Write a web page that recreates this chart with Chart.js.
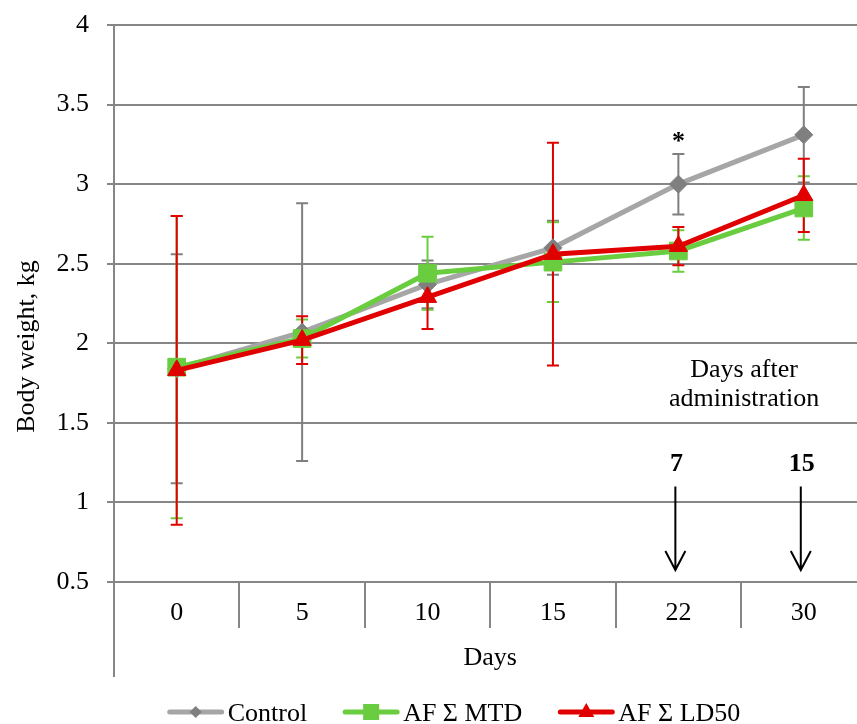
<!DOCTYPE html>
<html>
<head>
<meta charset="utf-8">
<script src="https://cdn.jsdelivr.net/npm/chart.js@4.4.1/dist/chart.umd.min.js"></script>
<style>
  html, body { margin: 0; padding: 0; background: #fff; overflow: hidden; }
  #wrap { width: 880px; height: 724px; }
</style>
</head>
<body>
<div id="wrap"><canvas id="chart" width="880" height="724"></canvas></div>
<script>
// Body weight over time (mean ± SD)
const days = ['0', '5', '10', '15', '22', '30'];

const controlMean = [1.84, 2.07, 2.37, 2.60, 3.00, 3.31];
const controlSd   = [0.72, 0.81, 0.15, 0.17, 0.19, 0.30];

const mtdMean = [1.85, 2.03, 2.44, 2.51, 2.58, 2.85];
const mtdSd   = [0.95, 0.12, 0.23, 0.25, 0.13, 0.20];

const ld50Mean = [1.83, 2.02, 2.29, 2.56, 2.61, 2.93];
const ld50Sd   = [0.97, 0.15, 0.20, 0.70, 0.12, 0.23];

const yMin = 0.5, yMax = 4, yStep = 0.5;
const afterDays = ['7', '15'];   // days after administration, shown over days 22 and 30

const FONT = '"Liberation Serif", "Times New Roman", serif';
const GRID = '#868686';

// error bars under the lines
const errorBars = {
  id: 'errorBars',
  beforeDatasetsDraw(chart) {
    const ctx = chart.ctx;
    const y = chart.scales.y;
    chart.data.datasets.forEach((ds, i) => {
      const meta = chart.getDatasetMeta(i);
      ctx.save();
      ctx.strokeStyle = ds.errorColor;
      ctx.lineWidth = 2;
      meta.data.forEach((pt, j) => {
        const hi = y.getPixelForValue(ds.data[j] + ds.errors[j]);
        const lo = y.getPixelForValue(ds.data[j] - ds.errors[j]);
        ctx.beginPath();
        ctx.moveTo(pt.x, hi); ctx.lineTo(pt.x, lo);
        ctx.moveTo(pt.x - 6, hi); ctx.lineTo(pt.x + 6, hi);
        ctx.moveTo(pt.x - 6, lo); ctx.lineTo(pt.x + 6, lo);
        ctx.stroke();
      });
      ctx.restore();
    });
  }
};

function marker(ctx, style, x, y, color) {
  ctx.fillStyle = color;
  ctx.beginPath();
  if (style === 'rectRot') {
    ctx.moveTo(x, y - 6); ctx.lineTo(x + 6, y); ctx.lineTo(x, y + 6); ctx.lineTo(x - 6, y);
  } else if (style === 'rect') {
    ctx.rect(x - 8, y - 8, 16, 16);
  } else {
    ctx.moveTo(x, y - 9); ctx.lineTo(x + 8, y + 5); ctx.lineTo(x - 8, y + 5);
  }
  ctx.closePath();
  ctx.fill();
}

// y title, axis extension, annotations and legend
const extras = {
  id: 'extras',
  afterDraw(chart) {
    const ctx = chart.ctx;
    const xs = chart.scales.x, ys = chart.scales.y;
    const area = chart.chartArea;
    ctx.save();

    // left axis runs down past the category labels
    ctx.strokeStyle = GRID;
    ctx.lineWidth = 2;
    ctx.beginPath();
    ctx.moveTo(area.left, area.bottom);
    ctx.lineTo(area.left, 677);
    ctx.stroke();

    ctx.fillStyle = '#000';
    ctx.font = '26px ' + FONT;

    // y axis title, centred on the full axis line
    ctx.save();
    ctx.translate(27, (area.top + 668) / 2);
    ctx.rotate(-Math.PI / 2);
    ctx.textAlign = 'center';
    ctx.textBaseline = 'middle';
    ctx.fillText('Body weight, kg', 0, 0);
    ctx.restore();

    // significance mark
    const x22 = xs.getPixelForValue(4);
    const x30 = xs.getPixelForValue(5);
    ctx.textAlign = 'center';
    ctx.textBaseline = 'alphabetic';
    ctx.font = 'bold 26px ' + FONT;
    ctx.fillText('*', x22, ys.getPixelForValue(controlMean[4] + controlSd[4]) - 5);

    // days after administration
    ctx.font = '26px ' + FONT;
    const midX = (x22 + x30) / 2 + 3;
    ctx.fillText('Days after', midX, ys.getPixelForValue(1.79));
    ctx.fillText('administration', midX, ys.getPixelForValue(1.605));

    ctx.font = 'bold 26px ' + FONT;
    [x22, x30].forEach((x, k) => {
      ctx.fillText(afterDays[k], x - 2, ys.getPixelForValue(1.2));
      const top = ys.getPixelForValue(1.1), bot = ys.getPixelForValue(0.575);
      ctx.strokeStyle = '#000';
      ctx.lineWidth = 2;
      ctx.beginPath();
      ctx.moveTo(x - 3, top); ctx.lineTo(x - 3, bot);
      ctx.moveTo(x - 13, bot - 19); ctx.lineTo(x - 3, bot); ctx.lineTo(x + 7, bot - 19);
      ctx.stroke();
    });

    // legend
    ctx.font = '26px ' + FONT;
    ctx.textAlign = 'left';
    const seg = 56, gapText = 4, gapItem = 36, ly = 712;
    const items = chart.data.datasets.map(ds => ({ ds, w: ctx.measureText(ds.label).width }));
    const total = items.reduce((s, it) => s + seg + gapText + it.w, 0) + gapItem * (items.length - 1);
    let lx = 454 - total / 2;
    items.forEach(({ ds, w }) => {
      ctx.strokeStyle = ds.borderColor;
      ctx.lineWidth = 5;
      ctx.lineCap = 'round';
      ctx.beginPath();
      ctx.moveTo(lx + 2, ly); ctx.lineTo(lx + seg - 2, ly);
      ctx.stroke();
      marker(ctx, ds.pointStyle, lx + seg / 2, ly, ds.pointBackgroundColor);
      ctx.fillStyle = '#000';
      ctx.fillText(ds.label, lx + seg + gapText, 721);
      lx += seg + gapText + w + gapItem;
    });
    ctx.restore();
  }
};

new Chart(document.getElementById('chart'), {
  type: 'line',
  data: {
    labels: days,
    datasets: [
      {
        label: 'Control',
        data: controlMean,
        errors: controlSd,
        errorColor: '#7f7f7f',
        borderColor: '#a6a6a6',
        pointBackgroundColor: '#7f7f7f',
        pointBorderColor: '#7f7f7f',
        pointStyle: 'rectRot',
        pointRadius: 9,
        order: 3
      },
      {
        label: 'AF Σ MTD',
        data: mtdMean,
        errors: mtdSd,
        errorColor: '#6acd40',
        borderColor: '#6acd40',
        pointBackgroundColor: '#6acd40',
        pointBorderColor: '#6acd40',
        pointStyle: 'rect',
        pointRadius: 12.5,
        order: 2
      },
      {
        label: 'AF Σ LD50',
        data: ld50Mean,
        errors: ld50Sd,
        errorColor: '#e00000',
        borderColor: '#e00000',
        pointBackgroundColor: '#e00000',
        pointBorderColor: '#e00000',
        pointStyle: 'triangle',
        pointRadius: 10.5,
        order: 1
      }
    ]
  },
  options: {
    responsive: false,
    devicePixelRatio: 1,
    animation: false,
    layout: { padding: { top: 25, right: 13, bottom: 42, left: 0 } },
    elements: {
      line: { borderWidth: 5, tension: 0 },
      point: { borderWidth: 1, hoverRadius: 9 }
    },
    plugins: {
      legend: { display: false },
      tooltip: { enabled: false }
    },
    scales: {
      x: {
        offset: true,
        afterFit: s => { s.height = 100; },
        grid: {
          offset: true,
          drawOnChartArea: false,
          tickLength: 46,
          color: GRID,
          lineWidth: 2
        },
        border: { display: false },
        ticks: { color: '#000', padding: -30, font: { family: FONT, size: 26 } },
        title: {
          display: true,
          text: 'Days',
          color: '#000',
          padding: { top: 0, bottom: 8 },
          font: { family: FONT, size: 26 }
        }
      },
      y: {
        min: yMin,
        max: yMax,
        afterFit: s => { s.width = 114; s.paddingTop = 0; s.paddingBottom = 0; },
        grid: { color: GRID, lineWidth: 2, tickLength: 7 },
        border: { display: true, color: GRID, width: 2 },
        ticks: {
          stepSize: yStep,
          color: '#000',
          padding: 18,
          font: { family: FONT, size: 26 },
          callback: v => String(v)
        }
      }
    }
  },
  plugins: [errorBars, extras]
});
</script>
</body>
</html>
